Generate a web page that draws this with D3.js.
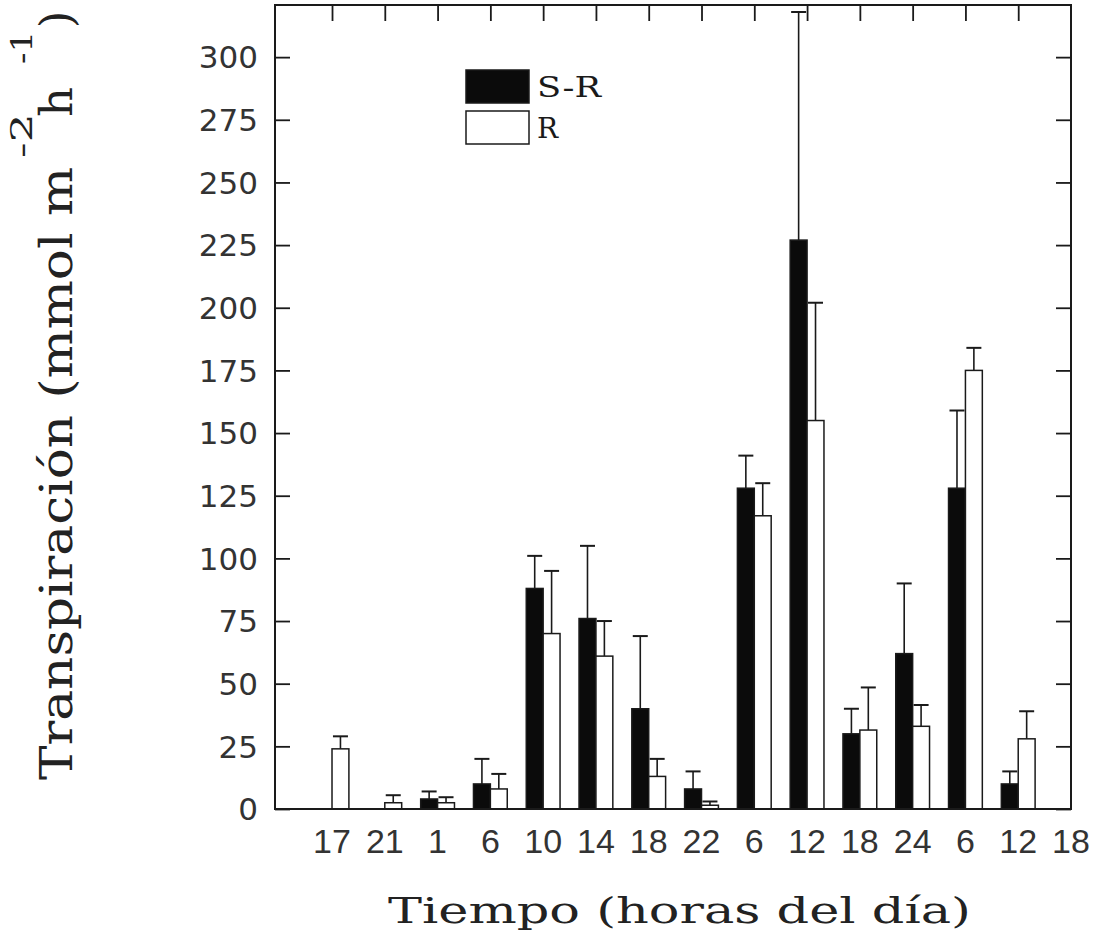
<!DOCTYPE html>
<html>
<head>
<meta charset="utf-8">
<script src="https://cdn.jsdelivr.net/npm/d3@7"></script>
<style>
  html, body { margin: 0; padding: 0; background: #fff; }
  svg { display: block; }
</style>
</head>
<body>
<svg id="chart" width="1094" height="945"></svg>
<script>
// Hour-of-day labels for each sampling time (three consecutive days)
const hours = ["17", "21", "1", "6", "10", "14", "18", "22", "6", "12", "18", "24", "6", "12", "18"];

// Mean transpiration, S-R treatment (null = not measured)
const srMean = [null, null, 4, 10, 88, 76, 40, 8, 128, 227, 30, 62, 128, 10, null];
// Upper error (S.E.) for S-R
const srErr  = [null, null, 3, 10, 13, 29, 29, 7, 13, 91, 10, 28, 31, 5, null];

// Mean transpiration, R treatment
const rMean = [24, 2.5, 2.5, 8, 70, 61, 13, 1.5, 117, 155, 31.5, 33, 175, 28, null];
// Upper error (S.E.) for R
const rErr  = [5, 3, 2.2, 6, 25, 14, 7, 1.5, 13, 47, 17, 8.5, 9, 11, null];

const yTicks = d3.range(0, 301, 25);
const seriesNames = ["S-R", "R"];

const svg = d3.select("#chart");
const plotL = 275, plotR = 1071, plotT = 5, plotB = 809;

const x = d3.scaleLinear().domain([-1.08, hours.length - 1]).range([plotL, plotR]);
const y = d3.scaleLinear().domain([0, 320.8]).range([plotB, plotT]);
const step = x(1) - x(0);
const barW = step * 0.32;

const ink = "#1a1a1a";
const serif = "DejaVu Serif";

// Axes with ticks pointing into the plot
const gl = svg.append("g").attr("transform", `translate(${plotL},0)`)
  .call(d3.axisRight(y).tickValues(yTicks).tickSize(15).tickFormat(""));
const gr = svg.append("g").attr("transform", `translate(${plotR},0)`)
  .call(d3.axisLeft(y).tickValues(yTicks).tickSize(15).tickFormat(""));
const topTicks = d3.range(0, hours.length - 1);
const gt = svg.append("g").attr("transform", `translate(0,${plotT})`)
  .call(d3.axisBottom(x).tickValues(topTicks).tickSize(16).tickFormat(""));
[gl, gr, gt].forEach(g => {
  g.select(".domain").remove();
  g.selectAll(".tick line").attr("stroke", ink).attr("stroke-width", 1.8);
});

// Y tick labels
svg.append("g").selectAll("text").data(yTicks).join("text")
  .attr("x", 258).attr("y", d => y(d)).attr("dy", "0.36em")
  .attr("text-anchor", "end")
  .attr("font-family", "DejaVu Sans").attr("font-size", 31)
  .attr("fill", "#333")
  .text(d => d);

// X tick labels
svg.append("g").selectAll("text").data(hours).join("text")
  .attr("x", (d, i) => x(i)).attr("y", 853)
  .attr("text-anchor", "middle")
  .attr("font-family", "Liberation Sans").attr("font-size", 34)
  .attr("fill", "#333")
  .text(d => d);

// Bars
const rows = hours.map((h, i) => ({ i, sr: srMean[i], srE: srErr[i], r: rMean[i], rE: rErr[i] }));

const barsG = svg.append("g");
function drawSeries(key, errKey, offset, fill) {
  const data = rows.filter(d => d[key] != null);
  // error bars (upper only)
  const eg = barsG.append("g").attr("stroke", ink).attr("stroke-width", 1.6);
  eg.selectAll("line.stem").data(data).join("line").attr("class", "stem")
    .attr("x1", d => x(d.i) + offset + barW / 2).attr("x2", d => x(d.i) + offset + barW / 2)
    .attr("y1", d => y(d[key])).attr("y2", d => y(d[key] + d[errKey]));
  eg.selectAll("line.cap").data(data).join("line").attr("class", "cap")
    .attr("x1", d => x(d.i) + offset + barW / 2 - 7.5).attr("x2", d => x(d.i) + offset + barW / 2 + 7.5)
    .attr("y1", d => y(d[key] + d[errKey])).attr("y2", d => y(d[key] + d[errKey]))
    .attr("stroke-width", 2);
  barsG.append("g").selectAll("rect").data(data).join("rect")
    .attr("x", d => x(d.i) + offset).attr("width", barW)
    .attr("y", d => y(d[key])).attr("height", d => y(0) - y(d[key]))
    .attr("fill", fill).attr("stroke", ink).attr("stroke-width", 1.5);
}
drawSeries("sr", "srE", -barW, "#0b0b0b");
drawSeries("r", "rE", 0, "#ffffff");

// Frame
svg.append("rect").attr("x", plotL).attr("y", plotT)
  .attr("width", plotR - plotL).attr("height", plotB - plotT)
  .attr("fill", "none").attr("stroke", ink).attr("stroke-width", 2);

// Legend
const legend = svg.append("g");
const legendFills = ["#0b0b0b", "#ffffff"];
seriesNames.forEach((name, k) => {
  const ly = 70 + k * 41;
  legend.append("rect").attr("x", 466).attr("y", ly).attr("width", 63).attr("height", 33)
    .attr("fill", legendFills[k]).attr("stroke", ink).attr("stroke-width", 1.5);
  const t = legend.append("text").attr("x", 537).attr("y", ly + 27)
    .attr("font-family", serif).attr("font-size", 28).attr("fill", ink)
    .text(name);
  if (name.length > 1) t.attr("textLength", 64).attr("lengthAdjust", "spacingAndGlyphs");
});

// X axis title
svg.append("text").attr("x", 388).attr("y", 923)
  .attr("font-family", serif).attr("font-size", 35).attr("fill", "#222")
  .attr("textLength", 583).attr("lengthAdjust", "spacingAndGlyphs")
  .text("Tiempo (horas del día)");

// Y axis title, written bottom-to-top with superscript exponents
const yt = svg.append("g").attr("transform", "translate(72,0) rotate(-90)")
  .attr("font-family", serif).attr("fill", "#222");
yt.append("text").attr("x", -780).attr("y", 0).attr("font-size", 44)
  .attr("textLength", 613).attr("lengthAdjust", "spacingAndGlyphs")
  .text("Transpiración (mmol m");
yt.append("text").attr("x", -158).attr("y", -40).attr("font-size", 30)
  .attr("textLength", 45).attr("lengthAdjust", "spacingAndGlyphs").text("-2");
yt.append("text").attr("x", -117).attr("y", 0).attr("font-size", 44)
  .attr("textLength", 30).attr("lengthAdjust", "spacingAndGlyphs").text("h");
yt.append("text").attr("x", -64).attr("y", -40).attr("font-size", 30)
  .attr("textLength", 33).attr("lengthAdjust", "spacingAndGlyphs").text("-1");
yt.append("text").attr("x", -28).attr("y", 0).attr("font-size", 44).text(")");
</script>
</body>
</html>
